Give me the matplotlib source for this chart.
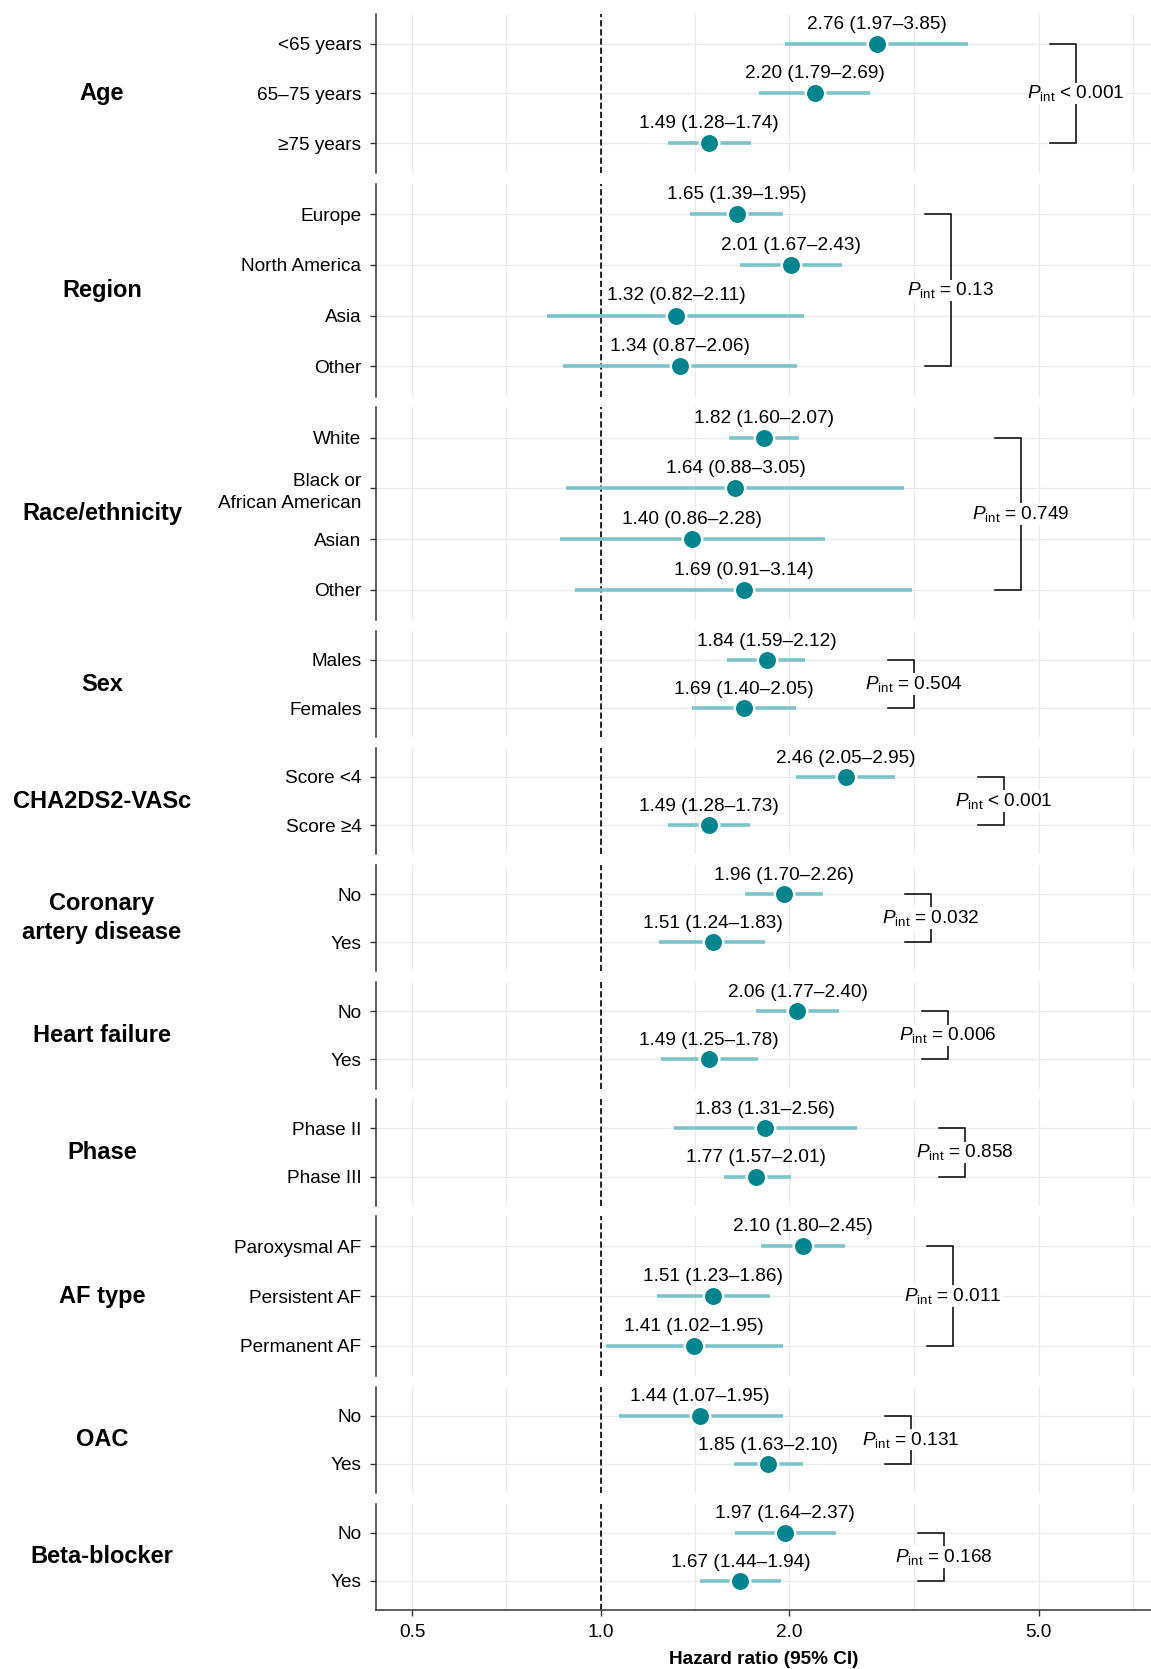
import numpy as np
import matplotlib
matplotlib.use("Agg")
import matplotlib.pyplot as plt

plt.rcParams['font.family'] = ['Liberation Sans', 'DejaVu Sans']
plt.rcParams['mathtext.fontset'] = 'custom'
plt.rcParams['mathtext.rm'] = 'Liberation Sans'
plt.rcParams['mathtext.it'] = 'Liberation Sans:italic'
plt.rcParams['mathtext.bf'] = 'Liberation Sans:bold'

# ---- Subgroup data: hazard ratio with 95% CI ----
groups = ["Age", "Region", "Race/ethnicity", "Sex", "CHA2DS2-VASc",
          "Coronary\nartery disease", "Heart failure", "Phase", "AF type",
          "OAC", "Beta-blocker"]

subgroups = [
    ["<65 years", "65–75 years", "≥75 years"],
    ["Europe", "North America", "Asia", "Other"],
    ["White", "Black or\nAfrican American", "Asian", "Other"],
    ["Males", "Females"],
    ["Score <4", "Score ≥4"],
    ["No", "Yes"],
    ["No", "Yes"],
    ["Phase II", "Phase III"],
    ["Paroxysmal AF", "Persistent AF", "Permanent AF"],
    ["No", "Yes"],
    ["No", "Yes"],
]

hr = [
    [2.76, 2.20, 1.49],
    [1.65, 2.01, 1.32, 1.34],
    [1.82, 1.64, 1.40, 1.69],
    [1.84, 1.69],
    [2.46, 1.49],
    [1.96, 1.51],
    [2.06, 1.49],
    [1.83, 1.77],
    [2.10, 1.51, 1.41],
    [1.44, 1.85],
    [1.97, 1.67],
]

ci_low = [
    [1.97, 1.79, 1.28],
    [1.39, 1.67, 0.82, 0.87],
    [1.60, 0.88, 0.86, 0.91],
    [1.59, 1.40],
    [2.05, 1.28],
    [1.70, 1.24],
    [1.77, 1.25],
    [1.31, 1.57],
    [1.80, 1.23, 1.02],
    [1.07, 1.63],
    [1.64, 1.44],
]

ci_high = [
    [3.85, 2.69, 1.74],
    [1.95, 2.43, 2.11, 2.06],
    [2.07, 3.05, 2.28, 3.14],
    [2.12, 2.05],
    [2.95, 1.73],
    [2.26, 1.83],
    [2.40, 1.78],
    [2.56, 2.01],
    [2.45, 1.86, 1.95],
    [1.95, 2.10],
    [2.37, 1.94],
]

p_interaction = ["< 0.001", "= 0.13", "= 0.749", "= 0.504", "< 0.001",
                 "= 0.032", "= 0.006", "= 0.858", "= 0.011", "= 0.131", "= 0.168"]

x_ticks = [0.5, 1.0, 2.0, 5.0]
x_tick_labels = ["0.5", "1.0", "2.0", "5.0"]

# ---- Styling ----
CI_COLOR = "#7cc3ca"
PT_COLOR = "#00858f"
GRID_COLOR = "#ebebeb"
AXIS_COLOR = "#333333"
FS = 13.7
FS_GROUP = 17

W, H = 1151, 1669
fig = plt.figure(figsize=(W / 100, H / 100), dpi=100)

left_px, right_px = 376.0, 1151.0
top_px, bottom_px = 13.6, 1610.0
gap_px = 10.65
n_rows = [len(s) for s in subgroups]
# panel height proportional to the number of subgroup rows
row_px = (bottom_px - top_px - gap_px * (len(groups) - 1)) / sum(n_rows)

minor_x = [np.sqrt(a * b) for a, b in zip([0.5, 1.0, 2.0, 5.0], [1.0, 2.0, 5.0, 10.0])]

y_cursor = top_px
for gi, group in enumerate(groups):
    n = n_rows[gi]
    h_px = row_px * n
    ax = fig.add_axes([left_px / W, 1 - (y_cursor + h_px) / H,
                       (right_px - left_px) / W, h_px / H])
    y_cursor += h_px + gap_px

    rows = np.arange(n)
    ax.set_xscale("log")
    ax.set_xlim(0.438, 7.55)
    ax.set_ylim(n - 1 + 0.6, -0.6)

    # grid
    ax.set_xticks(x_ticks)
    ax.set_xticks(minor_x, minor=True)
    ax.xaxis.set_minor_formatter(matplotlib.ticker.NullFormatter())
    ax.set_yticks(rows)
    ax.set_yticklabels(subgroups[gi], fontsize=FS, linespacing=1.32)
    ax.grid(True, which="both", color=GRID_COLOR, linewidth=0.9, zorder=0)
    ax.set_axisbelow(True)

    for s in ["top", "right"]:
        ax.spines[s].set_visible(False)
    ax.spines["left"].set_color(AXIS_COLOR)
    ax.spines["left"].set_linewidth(1.1)
    ax.tick_params(axis="y", length=4, width=1.0, color=AXIS_COLOR, pad=6.5)
    ax.tick_params(axis="x", which="minor", length=0)

    last = gi == len(groups) - 1
    if last:
        ax.spines["bottom"].set_color(AXIS_COLOR)
        ax.spines["bottom"].set_linewidth(1.1)
        ax.set_xticklabels(x_tick_labels, fontsize=FS)
        ax.tick_params(axis="x", which="major", length=4, width=1.0,
                       color=AXIS_COLOR, pad=6)
        ax.set_xlabel("Hazard ratio (95% CI)", fontsize=FS, fontweight="bold",
                      labelpad=7)
    else:
        ax.spines["bottom"].set_visible(False)
        ax.tick_params(axis="x", which="both", length=0, labelbottom=False)

    # reference line at HR = 1
    ax.axvline(1.0, color="black", linewidth=1.2, linestyle=(0, (3.7, 1.8)), zorder=2)

    # CI segments, point estimates and value labels
    for r in rows:
        ax.plot([ci_low[gi][r], ci_high[gi][r]], [r, r], color=CI_COLOR,
                linewidth=2.6, solid_capstyle="butt", zorder=3)
        ax.plot(hr[gi][r], r, marker="o", markersize=14, markerfacecolor=PT_COLOR,
                markeredgecolor="white", markeredgewidth=1.8, zorder=4)
        ax.text(hr[gi][r], r - 0.39,
                f"{hr[gi][r]:.2f} ({ci_low[gi][r]:.2f}–{ci_high[gi][r]:.2f})",
                ha="center", va="center", fontsize=FS, zorder=5)

    # interaction bracket
    bx = max(ci_high[gi]) * 1.49
    arm = bx / 1.1
    ax.plot([arm, bx, bx, arm], [0, 0, n - 1, n - 1], color="black",
            linewidth=1.1, solid_joinstyle="miter", zorder=3)
    ax.text(bx, (n - 1) / 2, r"$P_{\mathrm{int}}$" + " " + p_interaction[gi],
            ha="center", va="center", fontsize=FS, zorder=5,
            bbox=dict(facecolor="white", edgecolor="none", pad=0.5))

    # group heading
    yc = 1 - (y_cursor - gap_px - h_px / 2) / H
    fig.text(102 / W, yc, group, ha="center", va="center", fontsize=FS_GROUP,
             fontweight="bold", multialignment="center", linespacing=1.32)

fig.savefig("out.png", dpi=100)
